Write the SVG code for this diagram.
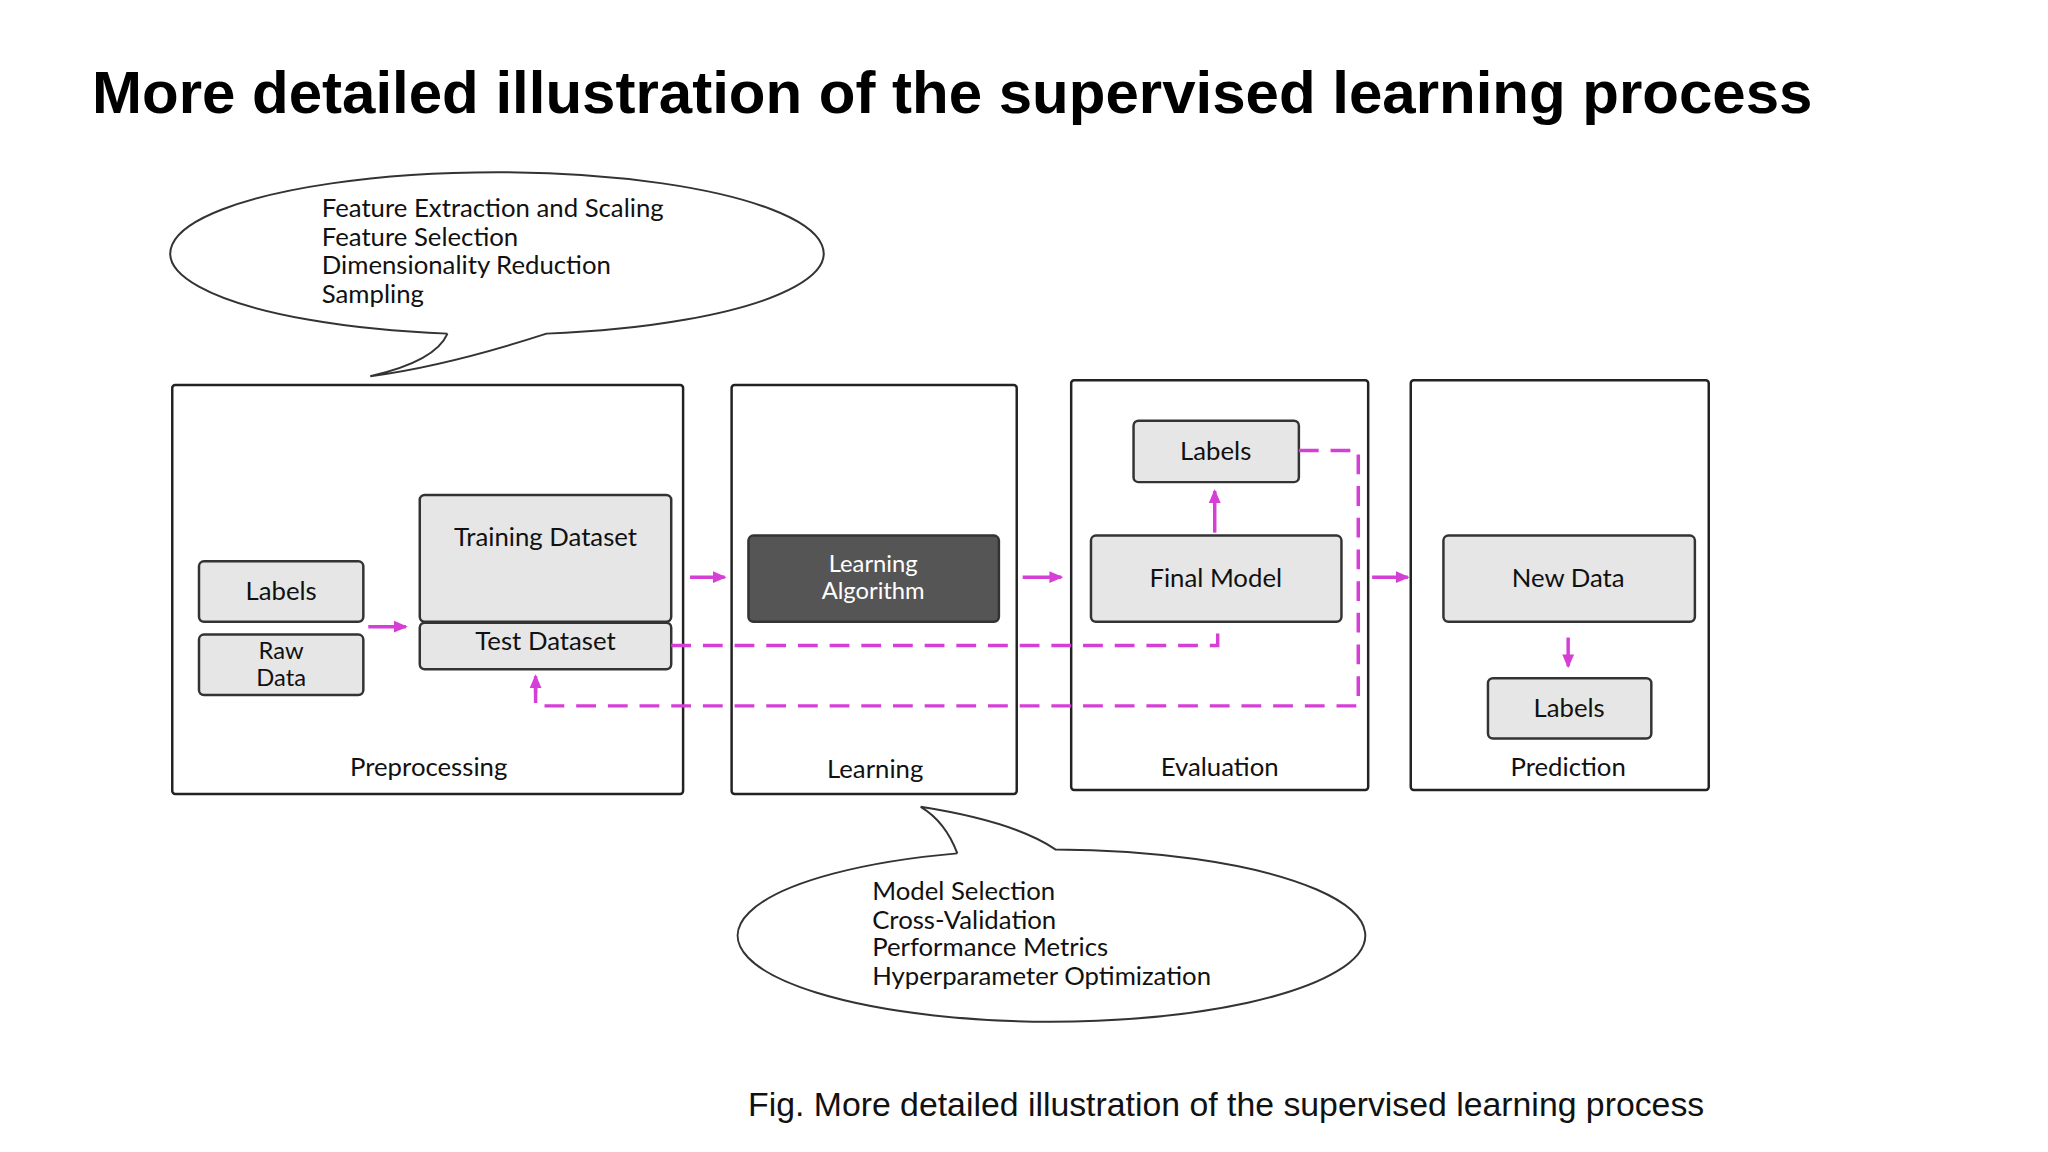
<svg xmlns="http://www.w3.org/2000/svg" width="2048" height="1152" viewBox="0 0 2048 1152">
<style>
.stage{fill:#fff;stroke:#222;stroke-width:2.5}
.box{fill:#e6e6e6;stroke:#333;stroke-width:2.5}
.t{font-family:Lato,"DejaVu Sans",sans-serif;font-size:26px;fill:#111;text-anchor:middle}
.t2{font-family:Lato,"DejaVu Sans",sans-serif;font-size:24px;fill:#111;text-anchor:middle}
.c{font-family:Lato,"DejaVu Sans",sans-serif;font-size:26px;fill:#111}
.arr{stroke:#d63fd6;stroke-width:3.5;fill:none}
.dash{stroke:#d63fd6;stroke-width:3.5;fill:none;stroke-dasharray:20 12}
</style>
<defs>
<marker id="ah2" markerWidth="14" markerHeight="14" refX="12" refY="7" orient="auto" markerUnits="userSpaceOnUse" viewBox="0 0 14 14"><path d="M0,1 L14,7 L0,13 z" fill="#d63fd6"/></marker></defs>
<rect width="2048" height="1152" fill="#fff"/>
<text x="92" y="113" font-family="Liberation Sans,Arial,sans-serif" font-weight="bold" font-size="60" fill="#000">More detailed illustration of the supervised learning process</text>
<g transform="scale(0.99)">
<g id="callout-top">
<path d="M452,337 A330,82 0 1 1 552,337 Q450,370 374,380 Q440,365 452,337" fill="#fff" stroke="#333" stroke-width="2"/>
<text class="c" x="325" y="219">Feature Extraction and Scaling</text>
<text class="c" x="325" y="248">Feature Selection</text>
<text class="c" x="325" y="277">Dimensionality Reduction</text>
<text class="c" x="325" y="306">Sampling</text>
</g>

<g id="preprocessing"><rect class="stage" x="174" y="389" width="516" height="413" rx="3"/><text class="t" x="433" y="784">Preprocessing</text></g>
<g id="learning"><rect class="stage" x="739" y="389" width="288" height="413" rx="3"/><text class="t" x="884" y="786">Learning</text></g>
<g id="evaluation"><rect class="stage" x="1082" y="384" width="300" height="414" rx="3"/><text class="t" x="1232" y="784">Evaluation</text></g>
<g id="prediction"><rect class="stage" x="1425" y="384" width="301" height="414" rx="3"/><text class="t" x="1584" y="784">Prediction</text></g>

<g id="labels-pre"><rect class="box" x="201" y="567" width="166" height="61" rx="5"/><text class="t" x="284" y="606">Labels</text></g>
<g id="raw-data"><rect class="box" x="201" y="641" width="166" height="61" rx="5"/><text class="t2" x="284" y="666">Raw</text><text class="t2" x="284" y="693">Data</text></g>
<g id="training"><rect class="box" x="424" y="500" width="254" height="128" rx="5"/><text class="t" x="551" y="552">Training Dataset</text></g>
<g id="test"><rect class="box" x="424" y="629" width="254" height="47" rx="5"/><text class="t" x="551" y="657">Test Dataset</text></g>
<g id="algo"><rect x="756" y="541" width="253" height="87" rx="5" fill="#555" stroke="#333" stroke-width="2.5"/><text class="t2" x="882" y="578" style="fill:#fff">Learning</text><text class="t2" x="882" y="605" style="fill:#fff">Algorithm</text></g>
<g id="final-model"><rect class="box" x="1102" y="541" width="253" height="87" rx="5"/><text class="t" x="1228" y="593">Final Model</text></g>
<g id="labels-eval"><rect class="box" x="1145" y="425" width="167" height="62" rx="5"/><text class="t" x="1228" y="465">Labels</text></g>
<g id="new-data"><rect class="box" x="1458" y="541" width="254" height="87" rx="5"/><text class="t" x="1584" y="593">New Data</text></g>
<g id="labels-pred"><rect class="box" x="1503" y="685" width="165" height="61" rx="5"/><text class="t" x="1585" y="724">Labels</text></g>

<g id="connectors">
<line class="arr" x1="372" y1="633" x2="410" y2="633" marker-end="url(#ah2)"/>
<line class="arr" x1="697" y1="583" x2="732" y2="583" marker-end="url(#ah2)"/>
<line class="arr" x1="1033" y1="583" x2="1072" y2="583" marker-end="url(#ah2)"/>
<line class="arr" x1="1386" y1="583" x2="1422" y2="583" marker-end="url(#ah2)"/>
<line class="arr" x1="1227" y1="538" x2="1227" y2="496" marker-end="url(#ah2)"/>
<line class="arr" x1="1584" y1="644" x2="1584" y2="673" marker-end="url(#ah2)"/>
<polyline class="dash" points="678,652 1230,652 1230,630"/>
<polyline class="dash" points="1312,455 1372,455 1372,713 541,713 541,688"/>
<line class="arr" x1="541" y1="700" x2="541" y2="683" marker-end="url(#ah2)"/>
</g>

<g id="callout-bottom">
<path d="M967,862 Q955,830 930,815 Q1025,830 1066,858 A317,87 0 1 1 967,862" fill="#fff" stroke="#333" stroke-width="2"/>
<text class="c" x="881" y="909">Model Selection</text>
<text class="c" x="881" y="938">Cross-Validation</text>
<text class="c" x="881" y="966">Performance Metrics</text>
<text class="c" x="881" y="995">Hyperparameter Optimization</text>
</g>
</g>
<text x="748" y="1116" font-family="Liberation Sans,Arial,sans-serif" font-size="33.8" fill="#111">Fig. More detailed illustration of the supervised learning process</text>
</svg>
